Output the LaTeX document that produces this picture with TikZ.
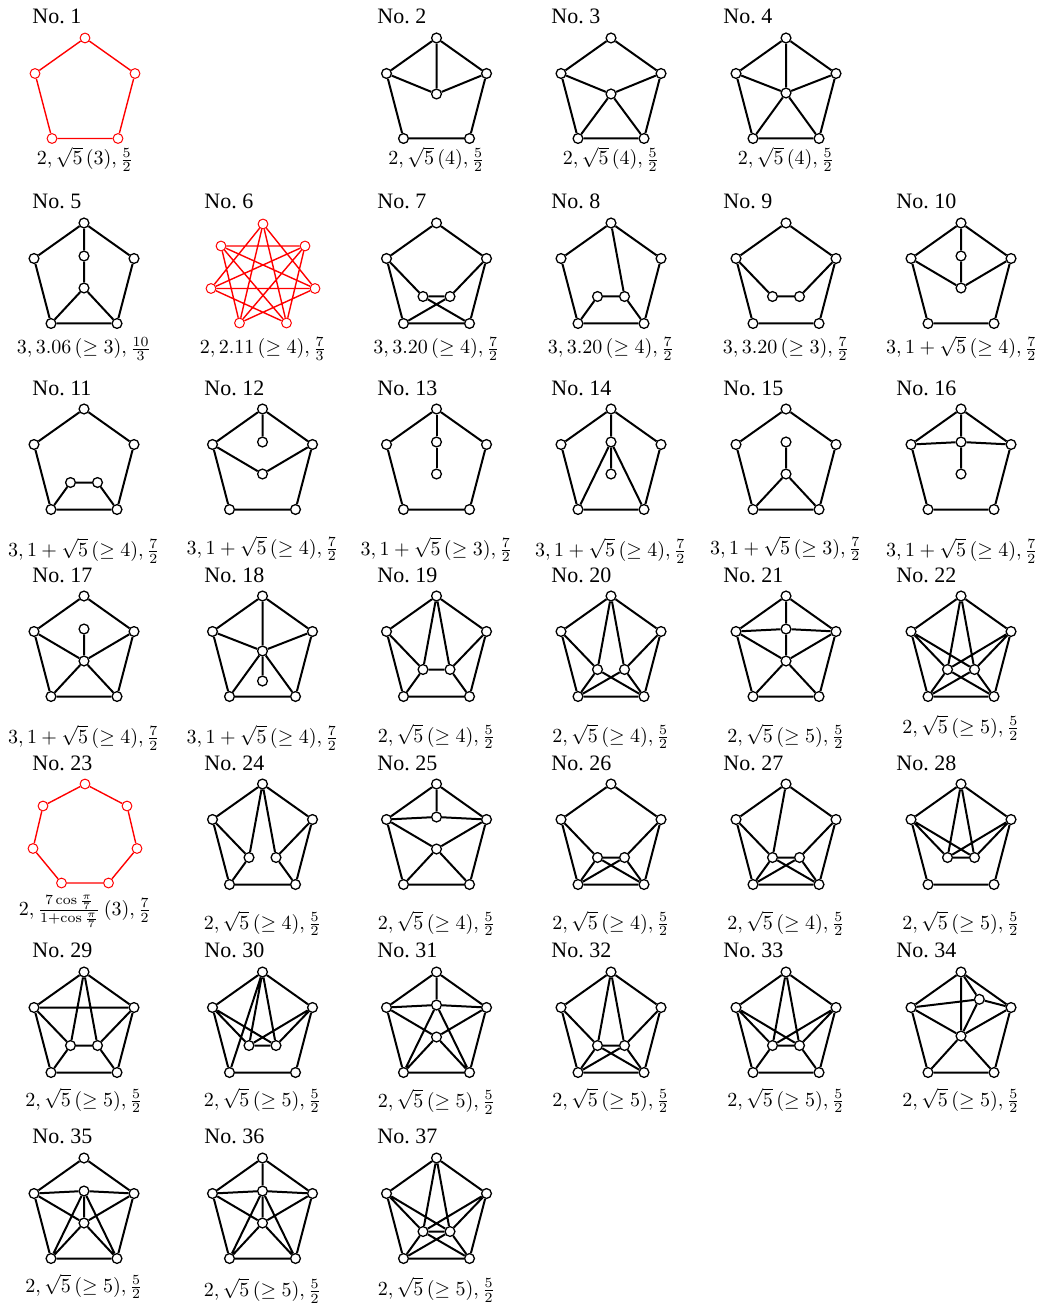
\documentclass[tikz,border=0pt]{standalone}
\usepackage{fontspec}
\newfontfamily\ttlfont{Liberation Serif}
\pgfdeclarelayer{bgfill}
\pgfdeclarelayer{edges}
\pgfsetlayers{bgfill,edges,main}
\tikzset{
  v/.style={circle, draw=black, fill=white, line width=0.65pt, inner sep=0pt, minimum size=4.9pt},
  vr/.style={circle, draw=red, fill=white, line width=0.5pt, inner sep=0pt, minimum size=4.9pt},
  e/.style={line width=1pt, draw=black},
  er/.style={line width=0.7pt, draw=red},
  ttl/.style={font=\ttlfont\fontsize{11}{13}\selectfont, anchor=base west, inner sep=0pt},
  lab/.style={anchor=base, inner sep=0pt},
}
\newcommand\mkpent[3]{%
  \node[#2] (#1T) at (0,0) {};
  \node[#2] (#1L) at (-50,35.5) {};
  \node[#2] (#1R) at (50,35.5) {};
  \node[#2] (#1BL) at (-33,100.5) {};
  \node[#2] (#1BR) at (33,100.5) {};
  \begin{pgfonlayer}{edges}\draw[#3] (#1T)--(#1L)--(#1BL)--(#1BR)--(#1R)--(#1T);\end{pgfonlayer}%
}
\newcommand\mkhept[1]{%
  \node[vr] (#1H0) at (0,0) {};
  \node[vr] (#1H1) at (42,22) {};
  \node[vr] (#1H2) at (52,64.5) {};
  \node[vr] (#1H3) at (23.5,99) {};
  \node[vr] (#1H4) at (-23.5,99) {};
  \node[vr] (#1H5) at (-52,64.5) {};
  \node[vr] (#1H6) at (-42,22) {};
}
\newcommand\mkpair[1]{\node[v] (#1A) at (-13.5,73.5) {};\node[v] (#1B) at (13.5,73.5) {};}
\newcommand\mkcol[1]{\node[v] (#1A) at (0,33) {};\node[v] (#1B) at (0,65) {};}
\newcommand\edg[1]{\begin{pgfonlayer}{edges}\draw[e] #1;\end{pgfonlayer}}
\newcommand\myttl[3]{\node[ttl] (t#1) at (#2,#3) {No.\ #1};}
\newcommand\mylab[4]{\node[lab] (l#1) at (#2,#3) {$#4$};}
\begin{document}
\begin{tikzpicture}[x=0.5pt,y=-0.5pt]
\useasboundingbox (0,0) rectangle (1042,1304);
\begin{pgfonlayer}{bgfill}\fill[white] (0,0) rectangle (1042,1304);\end{pgfonlayer}

% ---------------- titles ----------------
\myttl{1}{32}{24}
\myttl{2}{377}{24}
\myttl{3}{551}{24}
\myttl{4}{723}{24}
\myttl{5}{32}{209}
\myttl{6}{204}{209}
\myttl{7}{377}{209}
\myttl{8}{551}{209}
\myttl{9}{723}{209}
\myttl{10}{896}{209}
\myttl{11}{32}{395}
\myttl{12}{204}{395}
\myttl{13}{377}{395}
\myttl{14}{551}{395}
\myttl{15}{723}{395}
\myttl{16}{896}{395}
\myttl{17}{32}{582}
\myttl{18}{204}{582}
\myttl{19}{377}{582}
\myttl{20}{551}{582}
\myttl{21}{723}{582}
\myttl{22}{896}{582}
\myttl{23}{32}{770}
\myttl{24}{204}{770}
\myttl{25}{377}{770}
\myttl{26}{551}{770}
\myttl{27}{723}{770}
\myttl{28}{896}{770}
\myttl{29}{32}{957}
\myttl{30}{204}{957}
\myttl{31}{377}{957}
\myttl{32}{551}{957}
\myttl{33}{723}{957}
\myttl{34}{896}{957}
\myttl{35}{32}{1143}
\myttl{36}{204}{1143}
\myttl{37}{377}{1143}

% ---------------- labels ----------------
\mylab{1}{85}{165}{2, \sqrt{5}\,(3), \frac{5}{2}}
\mylab{2}{436.5}{165}{2, \sqrt{5}\,(4), \frac{5}{2}}
\mylab{3}{611}{165}{2, \sqrt{5}\,(4), \frac{5}{2}}
\mylab{4}{786}{165}{2, \sqrt{5}\,(4), \frac{5}{2}}
\mylab{5}{84}{354}{3, 3.06\,(\geq 3), \frac{10}{3}}
\mylab{6}{263}{354}{2, 2.11\,(\geq 4), \frac{7}{3}}
\mylab{7}{436.5}{354}{3, 3.20\,(\geq 4), \frac{7}{2}}
\mylab{8}{611}{354}{3, 3.20\,(\geq 4), \frac{7}{2}}
\mylab{9}{786}{354}{3, 3.20\,(\geq 3), \frac{7}{2}}
\mylab{10}{962}{354}{3, 1+\sqrt{5}\,(\geq 4), \frac{7}{2}}
\mylab{11}{84}{556.5}{3, 1+\sqrt{5}\,(\geq 4), \frac{7}{2}}
\mylab{12}{262.5}{554}{3, 1+\sqrt{5}\,(\geq 4), \frac{7}{2}}
\mylab{13}{436.5}{555}{3, 1+\sqrt{5}\,(\geq 3), \frac{7}{2}}
\mylab{14}{611}{556.5}{3, 1+\sqrt{5}\,(\geq 4), \frac{7}{2}}
\mylab{15}{786}{554}{3, 1+\sqrt{5}\,(\geq 3), \frac{7}{2}}
\mylab{16}{962}{556.5}{3, 1+\sqrt{5}\,(\geq 4), \frac{7}{2}}
\mylab{17}{84}{743.5}{3, 1+\sqrt{5}\,(\geq 4), \frac{7}{2}}
\mylab{18}{262.5}{743.5}{3, 1+\sqrt{5}\,(\geq 4), \frac{7}{2}}
\mylab{19}{436.5}{742}{2, \sqrt{5}\,(\geq 4), \frac{5}{2}}
\mylab{20}{611}{742}{2, \sqrt{5}\,(\geq 4), \frac{5}{2}}
\mylab{21}{786}{742}{2, \sqrt{5}\,(\geq 5), \frac{5}{2}}
\mylab{22}{961}{733.5}{2, \sqrt{5}\,(\geq 5), \frac{5}{2}}
\mylab{23}{85}{915.5}{2, \frac{7\cos\frac{\pi}{7}}{1+\cos\frac{\pi}{7}}\,(3), \frac{7}{2}}
\mylab{24}{262.5}{929}{2, \sqrt{5}\,(\geq 4), \frac{5}{2}}
\mylab{25}{436.5}{929}{2, \sqrt{5}\,(\geq 4), \frac{5}{2}}
\mylab{26}{611}{929}{2, \sqrt{5}\,(\geq 4), \frac{5}{2}}
\mylab{27}{786}{929}{2, \sqrt{5}\,(\geq 4), \frac{5}{2}}
\mylab{28}{961}{929}{2, \sqrt{5}\,(\geq 5), \frac{5}{2}}
\mylab{29}{84}{1106}{2, \sqrt{5}\,(\geq 5), \frac{5}{2}}
\mylab{30}{262.5}{1106}{2, \sqrt{5}\,(\geq 5), \frac{5}{2}}
\mylab{31}{436.5}{1107.5}{2, \sqrt{5}\,(\geq 5), \frac{5}{2}}
\mylab{32}{611}{1106}{2, \sqrt{5}\,(\geq 5), \frac{5}{2}}
\mylab{33}{786}{1106}{2, \sqrt{5}\,(\geq 5), \frac{5}{2}}
\mylab{34}{961}{1106}{2, \sqrt{5}\,(\geq 5), \frac{5}{2}}
\mylab{35}{84}{1292}{2, \sqrt{5}\,(\geq 5), \frac{5}{2}}
\mylab{36}{262.5}{1296.5}{2, \sqrt{5}\,(\geq 5), \frac{5}{2}}
\mylab{37}{436.5}{1295.5}{2, \sqrt{5}\,(\geq 5), \frac{5}{2}}

% ---------------- row 1 ----------------
\begin{scope}[shift={(85,38)}]
\mkpent{n1}{vr}{er}
\end{scope}
\begin{scope}[shift={(436.5,38)}]
\mkpent{n2}{v}{e}
\node[v] (n2A) at (0,56) {};
\edg{(n2T)--(n2A) (n2L)--(n2A) (n2R)--(n2A)}
\end{scope}
\begin{scope}[shift={(611,38)}]
\mkpent{n3}{v}{e}
\node[v] (n3A) at (0,56) {};
\edg{(n3L)--(n3A) (n3R)--(n3A) (n3BL)--(n3A) (n3BR)--(n3A)}
\end{scope}
\begin{scope}[shift={(786,38)}]
\mkpent{n4}{v}{e}
\node[v] (n4A) at (0,55) {};
\edg{(n4T)--(n4A) (n4L)--(n4A) (n4R)--(n4A) (n4BL)--(n4A) (n4BR)--(n4A)}
\end{scope}

% ---------------- row 2 ----------------
\begin{scope}[shift={(84,223)}]
\mkpent{n5}{v}{e}\mkcol{n5}
\edg{(n5T)--(n5A) (n5A)--(n5B) (n5B)--(n5BL) (n5B)--(n5BR)}
\end{scope}
\begin{scope}[shift={(263,224)}]
\mkhept{n6}
\begin{pgfonlayer}{edges}
\draw[er] (n6H0)--(n6H2) (n6H0)--(n6H3) (n6H1)--(n6H3) (n6H1)--(n6H4)
  (n6H2)--(n6H4) (n6H2)--(n6H5) (n6H3)--(n6H5) (n6H3)--(n6H6)
  (n6H4)--(n6H6) (n6H4)--(n6H0) (n6H5)--(n6H0) (n6H5)--(n6H1)
  (n6H6)--(n6H1) (n6H6)--(n6H2);
\end{pgfonlayer}
\end{scope}
\begin{scope}[shift={(436.5,223)}]
\mkpent{n7}{v}{e}\mkpair{n7}
\edg{(n7L)--(n7A) (n7R)--(n7B) (n7A)--(n7B) (n7A)--(n7BR) (n7B)--(n7BL)}
\end{scope}
\begin{scope}[shift={(611,223)}]
\mkpent{n8}{v}{e}\mkpair{n8}
\edg{(n8T)--(n8B) (n8A)--(n8B) (n8A)--(n8BL) (n8B)--(n8BR)}
\end{scope}
\begin{scope}[shift={(786,223)}]
\mkpent{n9}{v}{e}\mkpair{n9}
\edg{(n9L)--(n9A) (n9A)--(n9B) (n9B)--(n9R)}
\end{scope}
\begin{scope}[shift={(961,223)}]
\mkpent{n10}{v}{e}\mkcol{n10}
\edg{(n10T)--(n10A) (n10A)--(n10B) (n10L)--(n10B) (n10R)--(n10B)}
\end{scope}

% ---------------- row 3 ----------------
\begin{scope}[shift={(84,409)}]
\mkpent{n11}{v}{e}\mkpair{n11}
\edg{(n11BL)--(n11A) (n11A)--(n11B) (n11B)--(n11BR)}
\end{scope}
\begin{scope}[shift={(262.5,409)}]
\mkpent{n12}{v}{e}\mkcol{n12}
\edg{(n12T)--(n12A) (n12L)--(n12B) (n12R)--(n12B)}
\end{scope}
\begin{scope}[shift={(436.5,409)}]
\mkpent{n13}{v}{e}\mkcol{n13}
\edg{(n13T)--(n13A) (n13A)--(n13B)}
\end{scope}
\begin{scope}[shift={(611,409)}]
\mkpent{n14}{v}{e}\mkcol{n14}
\edg{(n14T)--(n14A) (n14A)--(n14B) (n14A)--(n14BL) (n14A)--(n14BR)}
\end{scope}
\begin{scope}[shift={(786,409)}]
\mkpent{n15}{v}{e}\mkcol{n15}
\edg{(n15A)--(n15B) (n15B)--(n15BL) (n15B)--(n15BR)}
\end{scope}
\begin{scope}[shift={(961,409)}]
\mkpent{n16}{v}{e}\mkcol{n16}
\edg{(n16T)--(n16A) (n16A)--(n16B) (n16L)--(n16A) (n16R)--(n16A)}
\end{scope}

% ---------------- row 4 ----------------
\begin{scope}[shift={(84,596)}]
\mkpent{n17}{v}{e}\mkcol{n17}
\edg{(n17A)--(n17B) (n17B)--(n17L) (n17B)--(n17R) (n17B)--(n17BL) (n17B)--(n17BR)}
\end{scope}
\begin{scope}[shift={(262.5,596)}]
\mkpent{n18}{v}{e}
\node[v] (n18A) at (0,55) {};
\node[v] (n18B) at (0,85) {};
\edg{(n18T)--(n18A) (n18L)--(n18A) (n18R)--(n18A) (n18BL)--(n18A) (n18BR)--(n18A) (n18A)--(n18B)}
\end{scope}
\begin{scope}[shift={(436.5,596)}]
\mkpent{n19}{v}{e}\mkpair{n19}
\edg{(n19T)--(n19A) (n19T)--(n19B) (n19A)--(n19B) (n19L)--(n19A) (n19R)--(n19B) (n19A)--(n19BL) (n19B)--(n19BR)}
\end{scope}
\begin{scope}[shift={(611,596)}]
\mkpent{n20}{v}{e}\mkpair{n20}
\edg{(n20T)--(n20A) (n20T)--(n20B) (n20L)--(n20A) (n20R)--(n20B) (n20A)--(n20BL) (n20A)--(n20BR) (n20B)--(n20BL) (n20B)--(n20BR)}
\end{scope}
\begin{scope}[shift={(786,596)}]
\mkpent{n21}{v}{e}\mkcol{n21}
\edg{(n21T)--(n21A) (n21L)--(n21A) (n21R)--(n21A) (n21A)--(n21B) (n21L)--(n21B) (n21R)--(n21B) (n21BL)--(n21B) (n21BR)--(n21B)}
\end{scope}
\begin{scope}[shift={(961,596)}]
\mkpent{n22}{v}{e}\mkpair{n22}
\edg{(n22T)--(n22A) (n22T)--(n22B) (n22L)--(n22A) (n22L)--(n22B) (n22R)--(n22A) (n22R)--(n22B) (n22A)--(n22BL) (n22A)--(n22BR) (n22B)--(n22BL) (n22B)--(n22BR)}
\end{scope}

% ---------------- row 5 ----------------
\begin{scope}[shift={(85,784)}]
\mkhept{n23}
\begin{pgfonlayer}{edges}
\draw[er] (n23H0)--(n23H1)--(n23H2)--(n23H3)--(n23H4)--(n23H5)--(n23H6)--(n23H0);
\end{pgfonlayer}
\end{scope}
\begin{scope}[shift={(262.5,784)}]
\mkpent{n24}{v}{e}\mkpair{n24}
\edg{(n24T)--(n24A) (n24T)--(n24B) (n24L)--(n24A) (n24R)--(n24B) (n24A)--(n24BL) (n24B)--(n24BR)}
\end{scope}
\begin{scope}[shift={(436.5,784)}]
\mkpent{n25}{v}{e}\mkcol{n25}
\edg{(n25T)--(n25A) (n25L)--(n25A) (n25R)--(n25A) (n25L)--(n25B) (n25R)--(n25B) (n25B)--(n25BL) (n25B)--(n25BR)}
\end{scope}
\begin{scope}[shift={(611,784)}]
\mkpent{n26}{v}{e}\mkpair{n26}
\edg{(n26L)--(n26A) (n26R)--(n26B) (n26A)--(n26B) (n26A)--(n26BL) (n26A)--(n26BR) (n26B)--(n26BL) (n26B)--(n26BR)}
\end{scope}
\begin{scope}[shift={(786,784)}]
\mkpent{n27}{v}{e}\mkpair{n27}
\edg{(n27T)--(n27A) (n27L)--(n27A) (n27R)--(n27B) (n27A)--(n27B) (n27A)--(n27BL) (n27A)--(n27BR) (n27B)--(n27BL) (n27B)--(n27BR)}
\end{scope}
\begin{scope}[shift={(961,784)}]
\mkpent{n28}{v}{e}\mkpair{n28}
\edg{(n28T)--(n28A) (n28T)--(n28B) (n28A)--(n28B) (n28L)--(n28A) (n28L)--(n28B) (n28R)--(n28A) (n28R)--(n28B)}
\end{scope}

% ---------------- row 6 ----------------
\begin{scope}[shift={(84,972)}]
\mkpent{n29}{v}{e}\mkpair{n29}
\edg{(n29L)--(n29R) (n29T)--(n29A) (n29T)--(n29B) (n29L)--(n29A) (n29R)--(n29B) (n29A)--(n29B) (n29A)--(n29BL) (n29B)--(n29BR)}
\end{scope}
\begin{scope}[shift={(262.5,972)}]
\mkpent{n30}{v}{e}\mkpair{n30}
\edg{(n30T)--(n30A) (n30T)--(n30B) (n30A)--(n30B) (n30L)--(n30A) (n30L)--(n30B) (n30R)--(n30A) (n30R)--(n30B) (n30T)--(n30BL)}
\end{scope}
\begin{scope}[shift={(436.5,972)}]
\mkpent{n31}{v}{e}\mkcol{n31}
\edg{(n31T)--(n31A) (n31L)--(n31A) (n31R)--(n31A) (n31L)--(n31B) (n31R)--(n31B) (n31A)--(n31BL) (n31A)--(n31BR) (n31B)--(n31BL) (n31B)--(n31BR)}
\end{scope}
\begin{scope}[shift={(611,972)}]
\mkpent{n32}{v}{e}\mkpair{n32}
\edg{(n32T)--(n32A) (n32T)--(n32B) (n32L)--(n32A) (n32R)--(n32B) (n32A)--(n32B) (n32A)--(n32BL) (n32A)--(n32BR) (n32B)--(n32BL) (n32B)--(n32BR)}
\end{scope}
\begin{scope}[shift={(786,972)}]
\mkpent{n33}{v}{e}\mkpair{n33}
\edg{(n33T)--(n33A) (n33T)--(n33B) (n33A)--(n33B) (n33L)--(n33A) (n33L)--(n33B) (n33R)--(n33A) (n33R)--(n33B) (n33A)--(n33BL) (n33B)--(n33BR)}
\end{scope}
\begin{scope}[shift={(961,972)}]
\mkpent{n34}{v}{e}
\node[v] (n34A) at (18.3,27.3) {};
\node[v] (n34B) at (0,64) {};
\edg{(n34T)--(n34A) (n34A)--(n34R) (n34L)--(n34A) (n34T)--(n34B) (n34A)--(n34B) (n34L)--(n34B) (n34R)--(n34B) (n34B)--(n34BL) (n34B)--(n34BR)}
\end{scope}

% ---------------- row 7 ----------------
\begin{scope}[shift={(84,1158)}]
\mkpent{n35}{v}{e}\mkcol{n35}
\edg{(n35L)--(n35A) (n35R)--(n35A) (n35A)--(n35B) (n35L)--(n35B) (n35R)--(n35B) (n35A)--(n35BL) (n35A)--(n35BR) (n35B)--(n35BL) (n35B)--(n35BR)}
\end{scope}
\begin{scope}[shift={(262.5,1158)}]
\mkpent{n36}{v}{e}\mkcol{n36}
\edg{(n36T)--(n36A) (n36L)--(n36A) (n36R)--(n36A) (n36A)--(n36B) (n36L)--(n36B) (n36R)--(n36B) (n36A)--(n36BL) (n36A)--(n36BR) (n36B)--(n36BL) (n36B)--(n36BR)}
\end{scope}
\begin{scope}[shift={(436.5,1158)}]
\mkpent{n37}{v}{e}\mkpair{n37}
\edg{(n37T)--(n37A) (n37T)--(n37B) (n37A)--(n37B) (n37L)--(n37A) (n37L)--(n37B) (n37R)--(n37A) (n37R)--(n37B) (n37A)--(n37BL) (n37A)--(n37BR) (n37B)--(n37BL) (n37B)--(n37BR)}
\end{scope}
\end{tikzpicture}
\end{document}
